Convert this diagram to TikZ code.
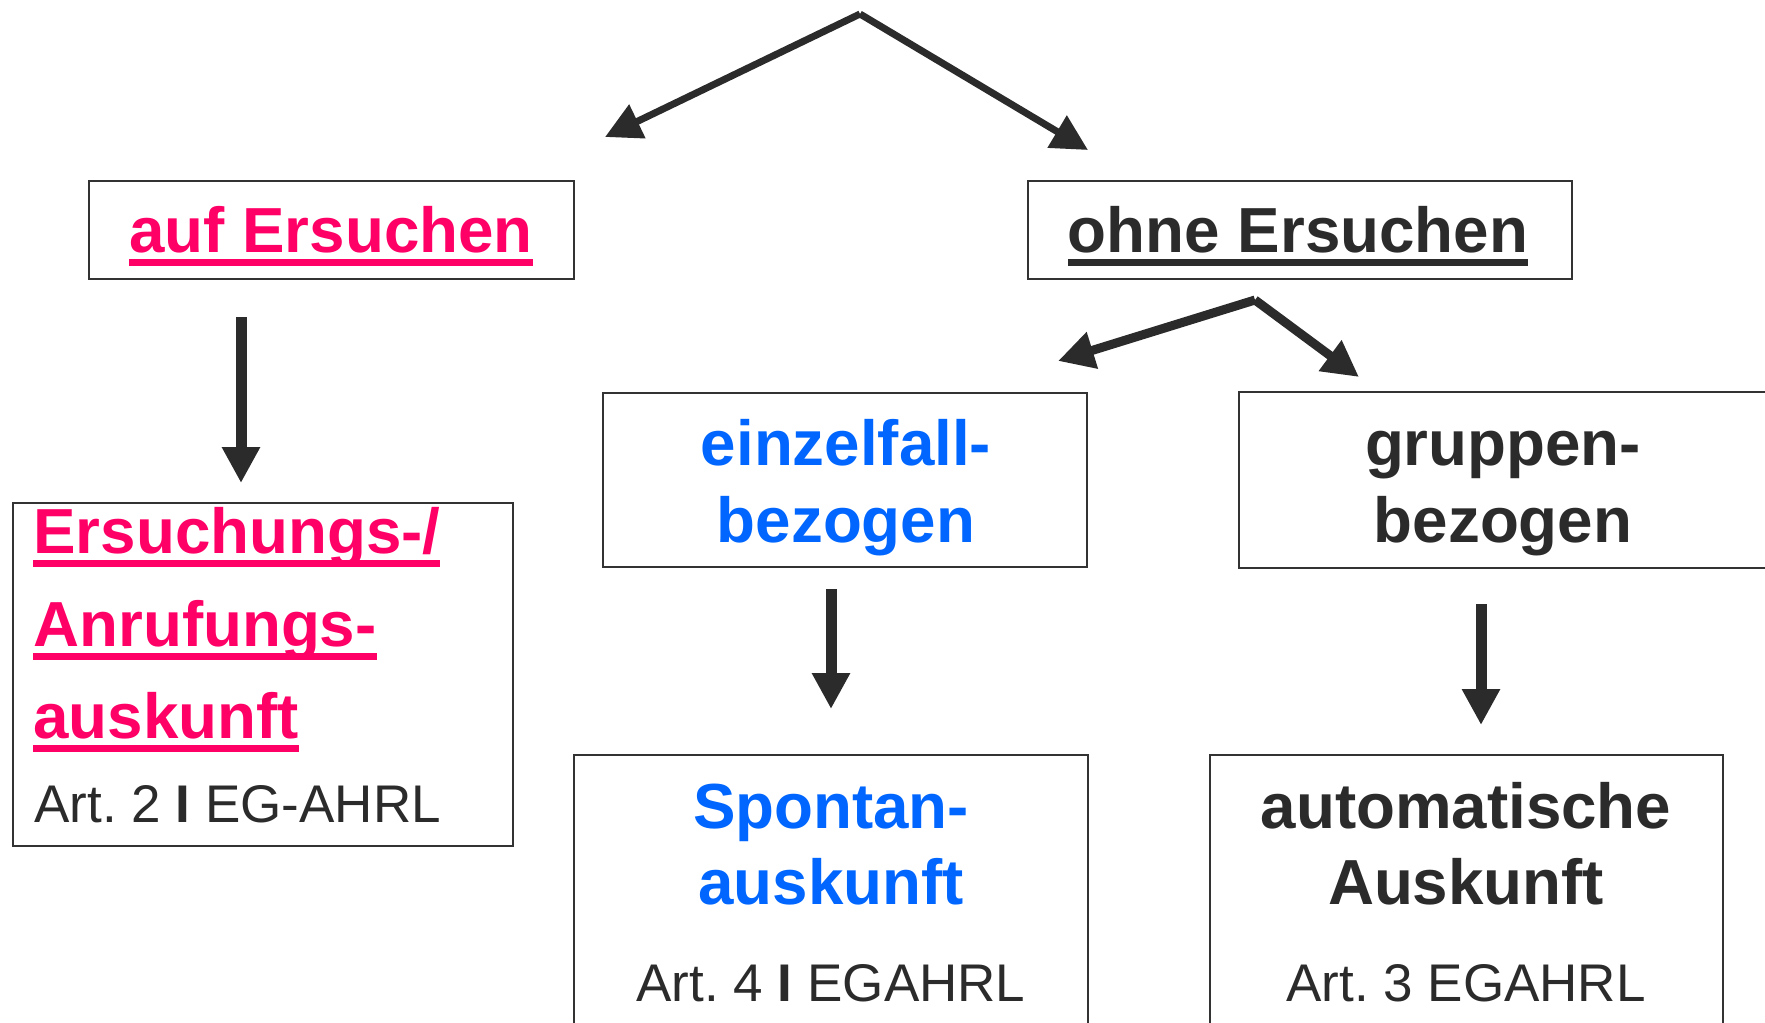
\documentclass[tikz,border=0pt]{standalone}
\usepackage{fontspec}
\setmainfont{Liberation Sans}
\usetikzlibrary{arrows.meta,fit}
\frenchspacing

\definecolor{ink}{HTML}{2B2B2B}
\definecolor{rim}{HTML}{333333}
\definecolor{pink}{HTML}{FF0066}
\definecolor{azure}{HTML}{0066FF}

% underlined word: a solid bar under the whole box of the text
\newcommand\ulword[1]{\setbox0\hbox{#1}\rlap{\rule[-7pt]{\wd0}{3.5pt}}\box0}

\tikzset{
  box/.style={draw=rim, line width=1.1pt, inner sep=0pt, rectangle},
  hd/.style={font=\fontsize{31.85pt}{38.5pt}\selectfont\bfseries, inner sep=0pt, anchor=base},
  art/.style={font=\fontsize{26.5pt}{32pt}\selectfont, inner sep=0pt, anchor=base, text=ink},
  tip/.style={draw=ink, -{Triangle[length=18pt,width=18pt]}},
}

\begin{document}
\begin{tikzpicture}[x=0.5pt,y=-0.5pt]
\useasboundingbox (0,0) rectangle (1765,1022);
\clip (0,0) rectangle (1765,1022);

% boxes
\node[box, fit={(89,181) (574,279)}] (auf) {};
\node[box, fit={(1028,181) (1572,279)}] (ohne) {};
\node[box, fit={(13,503) (513,846)}] (ersuch) {};
\node[box, fit={(603,393) (1087,567)}] (einzel) {};
\node[box, fit={(1239,392) (1772,568)}] (gruppe) {};
\node[box, fit={(574,755) (1088,1040)}] (spontan) {};
\node[box, fit={(1210,755) (1723,1040)}] (auto) {};

% texts
\node[hd, text=pink] (t-auf) at (331,252) {\ulword{auf Ersuchen}};
\node[hd, text=ink] (t-ohne) at (1298,252) {\ulword{ohne Ersuchen}};

\node[hd, text=pink, anchor=base west] (t-ers1) at (33,553) {\ulword{Ersuchungs-/}};
\node[hd, text=pink, anchor=base west] (t-ers2) at (33,646) {\ulword{Anrufungs-}};
\node[hd, text=pink, anchor=base west] (t-ers3) at (33,738) {\ulword{auskunft}};
\node[art, anchor=base west] (t-ers4) at (34,822) {Art. 2 \textbf{I} EG-AHRL};

\node[hd, text=azure] (t-ein1) at (846,465) {einzelfall-};
\node[hd, text=azure] (t-ein2) at (846,542) {bezogen};

\node[hd, text=ink] (t-gru1) at (1503,465) {gruppen-};
\node[hd, text=ink] (t-gru2) at (1503,542) {bezogen};

\node[hd, text=azure] (t-spo1) at (831,828) {Spontan-};
\node[hd, text=azure] (t-spo2) at (831,904) {auskunft};
\node[art] (t-spo3) at (831,1001) {Art. 4 \textbf{I} EGAHRL};

\node[hd, text=ink] (t-aut1) at (1466,828) {automatische};
\node[hd, text=ink] (t-aut2) at (1466,904) {Auskunft};
\node[art] (t-aut3) at (1466,1001) {Art. 3 EGAHRL};

% arrow end points
\coordinate (top) at (860,14);
\coordinate (topL) at (605,137);
\coordinate (topR) at (1088,150);
\coordinate (mid) at (1255,300);
\coordinate (midL) at (1058,361);
\coordinate (midR) at (1359,377);
\coordinate (v1s) at (241,317);
\coordinate (v1e) at (241,483);
\coordinate (v2s) at (831,589);
\coordinate (v2e) at (831,709);
\coordinate (v3s) at (1481,604);
\coordinate (v3e) at (1481,725);

% arrows
\draw[tip, line width=3.5pt] (top) -- (topL);
\draw[tip, line width=3.5pt] (top) -- (topR);
\draw[tip, line width=4.5pt] (mid) -- (midL);
\draw[tip, line width=4.5pt] (mid) -- (midR);
\draw[tip, line width=5.5pt] (v1s) -- (v1e);
\draw[tip, line width=5.5pt] (v2s) -- (v2e);
\draw[tip, line width=5.5pt] (v3s) -- (v3e);
\end{tikzpicture}
\end{document}
